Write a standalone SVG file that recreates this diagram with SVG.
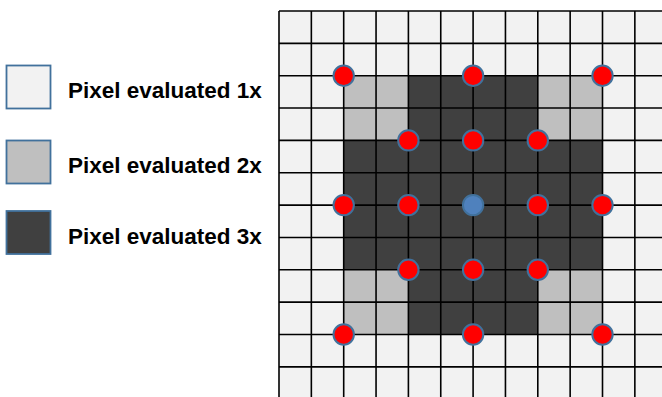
<svg xmlns="http://www.w3.org/2000/svg" width="662" height="397" viewBox="0 0 662 397">
<style>
.lbl{font-family:"Liberation Sans",Arial,sans-serif;font-weight:bold;font-size:22.5px;fill:#000}
.key{stroke:#41719c;stroke-width:1.8}
.grid line{stroke:#000;stroke-width:1.6}
.dot{fill:#ff0000;stroke:#41719c;stroke-width:2}
.ctr{fill:#4f81bd;stroke:#41719c;stroke-width:2}
</style>
<rect width="662" height="397" fill="#ffffff"/>
<g id="legend-1x"><rect class="key" x="6.5" y="65.5" width="44" height="43" fill="#f2f2f2"/><text class="lbl" x="68" y="98">Pixel evaluated 1x</text></g>
<g id="legend-2x"><rect class="key" x="6.5" y="140.5" width="44" height="43" fill="#bfbfbf"/><text class="lbl" x="68" y="173">Pixel evaluated 2x</text></g>
<g id="legend-3x"><rect class="key" x="6.5" y="211" width="44" height="43" fill="#404040"/><text class="lbl" x="68" y="244">Pixel evaluated 3x</text></g>
<g id="shading">
<rect x="279" y="11" width="383" height="386" fill="#f2f2f2"/>
<rect x="343.7" y="75.7" width="258.8" height="258.8" fill="#404040"/>
<rect x="343.7" y="75.7" width="64.7" height="64.7" fill="#bfbfbf"/>
<rect x="537.8" y="75.7" width="64.7" height="64.7" fill="#bfbfbf"/>
<rect x="343.7" y="269.8" width="64.7" height="64.7" fill="#bfbfbf"/>
<rect x="537.8" y="269.8" width="64.7" height="64.7" fill="#bfbfbf"/>
</g>
<g id="grid" class="grid">
<line x1="279" y1="11" x2="279" y2="397"/>
<line x1="311.35" y1="11" x2="311.35" y2="397"/>
<line x1="343.7" y1="11" x2="343.7" y2="397"/>
<line x1="376.05" y1="11" x2="376.05" y2="397"/>
<line x1="408.4" y1="11" x2="408.4" y2="397"/>
<line x1="440.75" y1="11" x2="440.75" y2="397"/>
<line x1="473.1" y1="11" x2="473.1" y2="397"/>
<line x1="505.45" y1="11" x2="505.45" y2="397"/>
<line x1="537.8" y1="11" x2="537.8" y2="397"/>
<line x1="570.15" y1="11" x2="570.15" y2="397"/>
<line x1="602.5" y1="11" x2="602.5" y2="397"/>
<line x1="634.85" y1="11" x2="634.85" y2="397"/>
<line x1="279" y1="11" x2="662" y2="11"/>
<line x1="279" y1="43.35" x2="662" y2="43.35"/>
<line x1="279" y1="75.7" x2="662" y2="75.7"/>
<line x1="279" y1="108.05" x2="662" y2="108.05"/>
<line x1="279" y1="140.4" x2="662" y2="140.4"/>
<line x1="279" y1="172.75" x2="662" y2="172.75"/>
<line x1="279" y1="205.1" x2="662" y2="205.1"/>
<line x1="279" y1="237.45" x2="662" y2="237.45"/>
<line x1="279" y1="269.8" x2="662" y2="269.8"/>
<line x1="279" y1="302.15" x2="662" y2="302.15"/>
<line x1="279" y1="334.5" x2="662" y2="334.5"/>
<line x1="279" y1="366.85" x2="662" y2="366.85"/>
</g>
<g id="samples">
<circle class="dot" cx="343.7" cy="75.7" r="10.2"/>
<circle class="dot" cx="473.1" cy="75.7" r="10.2"/>
<circle class="dot" cx="602.5" cy="75.7" r="10.2"/>
<circle class="dot" cx="408.4" cy="140.4" r="10.2"/>
<circle class="dot" cx="473.1" cy="140.4" r="10.2"/>
<circle class="dot" cx="537.8" cy="140.4" r="10.2"/>
<circle class="dot" cx="343.7" cy="205.1" r="10.2"/>
<circle class="dot" cx="408.4" cy="205.1" r="10.2"/>
<circle class="ctr" id="center" cx="473.1" cy="205.1" r="10.2"/>
<circle class="dot" cx="537.8" cy="205.1" r="10.2"/>
<circle class="dot" cx="602.5" cy="205.1" r="10.2"/>
<circle class="dot" cx="408.4" cy="269.8" r="10.2"/>
<circle class="dot" cx="473.1" cy="269.8" r="10.2"/>
<circle class="dot" cx="537.8" cy="269.8" r="10.2"/>
<circle class="dot" cx="343.7" cy="334.5" r="10.2"/>
<circle class="dot" cx="473.1" cy="334.5" r="10.2"/>
<circle class="dot" cx="602.5" cy="334.5" r="10.2"/>
</g>
</svg>
